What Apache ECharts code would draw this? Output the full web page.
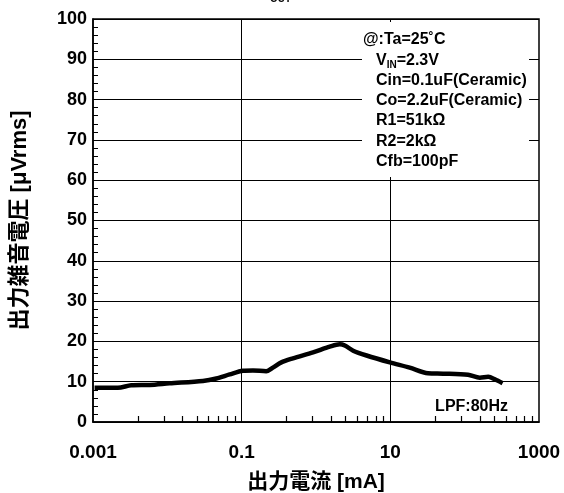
<!DOCTYPE html>
<html>
<head>
<meta charset="utf-8">
<script src="https://cdn.jsdelivr.net/npm/echarts@6/dist/echarts.min.js"></script>
<style>
  html, body { margin: 0; padding: 0; background: #fff; }
  #chart { width: 564px; height: 493px; }
</style>
</head>
<body>
<div id="chart"></div>
<script>
// Output noise voltage vs. output current (log current axis)
const currentMA = [0.00105, 0.00216, 0.00327, 0.00577, 0.0107, 0.0301, 0.0456, 0.0689, 0.104, 0.142, 0.214, 0.263, 0.342, 0.49, 0.912, 1.53, 2.09, 2.44, 3.16, 4.79, 9.85, 18.2, 32.1, 51.2, 111, 160, 208, 255, 324];
const noiseUVrms = [8.5, 8.5, 9.1, 9.2, 9.6, 10.2, 10.8, 11.8, 12.7, 12.8, 12.6, 13.5, 14.8, 15.8, 17.3, 18.7, 19.3, 19.0, 17.7, 16.5, 14.8, 13.5, 12.1, 12.0, 11.7, 11.0, 11.2, 10.6, 9.6];

const xLabelValues = [0.001, 0.1, 10, 1000];
const xLabelText = ['0.001', '0.1', '10', '1000'];
const xGridValues = [0.1, 10];
const yTicks = { min: 0, max: 100, step: 10 };

const conditionHead = '@:Ta=25˚C';
const conditionLines = [
  '{b|V}{s|IN}{b|=2.3V}',
  '{b|Cin=0.1uF(Ceramic)}',
  '{b|Co=2.2uF(Ceramic)}',
  '{b|R1=51kΩ}',
  '{b|R2=2kΩ}',
  '{b|Cfb=100pF}'
];

// minor ticks: each two-decade span is subdivided like a single decade (k = 2..9)
const minorTickValues = [];
xLabelValues.slice(0, 3).forEach(function (base) {
  for (let k = 2; k <= 9; k++) minorTickValues.push(base * k * k);
});

const FONT = "'Liberation Sans', Arial, 'Noto Sans CJK JP', sans-serif";
const points = currentMA.map(function (x, i) { return [x, noiseUVrms[i]]; });

const chart = echarts.init(document.getElementById('chart'), null, { renderer: 'canvas' });
chart.setOption({
  animation: false,
  backgroundColor: '#fff',
  grid: {
    left: 93, right: 25, top: 19, bottom: 71,
    outerBoundsMode: 'none', containLabel: false,
    show: true, borderColor: '#000', borderWidth: 1.5, backgroundColor: 'transparent'
  },
  xAxis: [{
    type: 'log', logBase: 10, min: 0.001, max: 1000,
    name: '出力電流 [mA]', nameLocation: 'middle', nameGap: 50,
    nameTextStyle: { fontFamily: FONT, fontWeight: 'bold', fontSize: 21, color: '#000' },
    axisLine: { show: true, lineStyle: { color: '#000', width: 1.5 } },
    axisTick: { show: true, inside: true, length: 6, customValues: minorTickValues, lineStyle: { color: '#000', width: 1.2 } },
    minorTick: { show: false },
    axisLabel: {
      customValues: xLabelValues, margin: 21,
      fontFamily: FONT, fontWeight: 'bold', fontSize: 19, color: '#000',
      formatter: function (v) {
        const i = xLabelValues.findIndex(function (t) { return Math.abs(Math.log10(t) - Math.log10(v)) < 1e-6; });
        return i >= 0 ? xLabelText[i] : '';
      }
    },
    splitLine: { show: false }
  }, {
    type: 'log', logBase: 10, min: 0.001, max: 1000, position: 'top',
    axisLine: { show: false },
    axisTick: { show: false, customValues: xGridValues },
    axisLabel: { show: false },
    splitLine: { show: true, lineStyle: { color: '#000', width: 1 } }
  }],
  yAxis: {
    type: 'value', min: yTicks.min, max: yTicks.max, interval: yTicks.step,
    name: '出力雑音電圧 [μVrms]', nameLocation: 'middle', nameGap: 62,
    nameTextStyle: { fontFamily: FONT, fontWeight: 'bold', fontSize: 22, color: '#000' },
    axisLine: { show: true, lineStyle: { color: '#000', width: 1.5 } },
    axisTick: { show: true, inside: true, length: 6, lineStyle: { color: '#000', width: 1 } },
    minorTick: { show: true, splitNumber: 5, length: 5, lineStyle: { color: '#000', width: 1 } },
    axisLabel: { margin: 6, fontFamily: FONT, fontWeight: 'bold', fontSize: 18, color: '#000' },
    splitLine: { show: true, lineStyle: { color: '#000', width: 1 } }
  },
  graphic: [
    {
      type: 'rect', z: 50,
      shape: { x: 362, y: 22, width: 167, height: 155 },
      style: { fill: '#fff' }
    },
    {
      type: 'text', z: 51, left: 363, top: 32,
      style: { text: conditionHead, fontFamily: FONT, fontWeight: 'bold', fontSize: 16, fill: '#000' }
    },
    {
      type: 'text', z: 51, left: 376, top: 50,
      style: {
        text: conditionLines.join('\n'),
        lineHeight: 20.3,
        rich: {
          b: { fontFamily: FONT, fontWeight: 'bold', fontSize: 16, fill: '#000', lineHeight: 20.3 },
          s: { fontFamily: FONT, fontWeight: 'bold', fontSize: 10, fill: '#000', verticalAlign: 'bottom', padding: [7, 0, 0, 0], lineHeight: 20.3 }
        }
      }
    },
    {
      type: 'text', z: 51, right: 56, top: 399,
      style: { text: 'LPF:80Hz', fontFamily: FONT, fontWeight: 'bold', fontSize: 16, fill: '#000' }
    },
    {
      type: 'text', z: 51, left: 258, top: -14,
      style: {
        text: '{v|V}{s|OUT}',
        rich: {
          v: { fontFamily: FONT, fontWeight: 'bold', fontSize: 18, fill: '#000' },
          s: { fontFamily: FONT, fontWeight: 'bold', fontSize: 10, fill: '#000', verticalAlign: 'bottom', padding: [8, 0, 0, 0] }
        }
      }
    }
  ],
  series: [{
    type: 'line', xAxisIndex: 0, yAxisIndex: 0,
    data: points, showSymbol: false, smooth: 0.3,
    lineStyle: { color: '#000', width: 4.5 },
    z: 10
  }]
});
</script>
</body>
</html>
